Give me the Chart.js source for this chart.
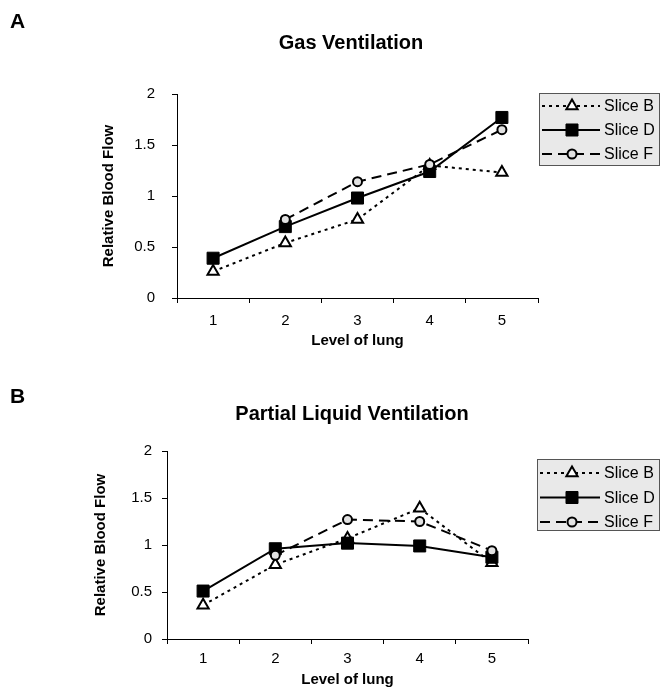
<!DOCTYPE html>
<html><head><meta charset="utf-8">
<script src="https://cdn.jsdelivr.net/npm/chart.js@4.4.1/dist/chart.umd.min.js"></script>
<style>
html,body{margin:0;padding:0;background:#fff;overflow:hidden;width:664px;height:689px}
canvas{position:absolute;left:0}
</style></head>
<body>
<canvas id="cA" width="664" height="360" style="top:0"></canvas>
<canvas id="cB" width="664" height="344" style="top:345px"></canvas>
<script>
// ---- data ----
const levels = ['1', '2', '3', '4', '5'];
const seriesNames = ['Slice B', 'Slice D', 'Slice F'];
const gasSliceB = [0.26, 0.54, 0.77, 1.30, 1.23];
const gasSliceD = [0.39, 0.70, 0.98, 1.24, 1.77];
const gasSliceF = [null, 0.77, 1.14, 1.31, 1.65];
const plvSliceB = [0.36, 0.79, 1.07, 1.39, 0.81];
const plvSliceD = [0.51, 0.96, 1.02, 0.99, 0.87];
const plvSliceF = [null, 0.89, 1.27, 1.25, 0.94];
const yTickValues = [0, 0.5, 1, 1.5, 2];
const yTickLabels = ['0', '0.5', '1', '1.5', '2'];
const titleA = 'Gas Ventilation';
const titleB = 'Partial Liquid Ventilation';
const xTitle = 'Level of lung';
const yTitle = 'Relative Blood Flow';

const FONT = "'Liberation Sans', Arial, sans-serif";

const styles = [
  {borderDash: [3, 4], pointStyle: 'triangle', pointRadius: 6.5, pointBackgroundColor: '#ffffff', pointBorderWidth: 2, order: 3},
  {borderDash: [], pointStyle: 'rect', pointRadius: 8.5, pointBackgroundColor: '#000000', pointBorderWidth: 1, order: 2},
  {borderDash: [10, 6], pointStyle: 'circle', pointRadius: 4.5, pointBackgroundColor: '#e2e2e2', pointBorderWidth: 2, order: 1}
];

function drawMarker(ctx, st, x, y) {
  const r = st.pointRadius;
  ctx.save();
  ctx.setLineDash([]);
  ctx.beginPath();
  if (st.pointStyle === 'triangle') {
    let a = 0;
    ctx.moveTo(x + Math.sin(a) * r, y - Math.cos(a) * r);
    a += 2 * Math.PI / 3;
    ctx.lineTo(x + Math.sin(a) * r, y - Math.cos(a) * r);
    a += 2 * Math.PI / 3;
    ctx.lineTo(x + Math.sin(a) * r, y - Math.cos(a) * r);
    ctx.closePath();
  } else if (st.pointStyle === 'rect') {
    const s = r * Math.SQRT1_2;
    ctx.rect(x - s, y - s, 2 * s, 2 * s);
  } else {
    ctx.arc(x, y, r, 0, Math.PI * 2);
  }
  ctx.fillStyle = st.pointBackgroundColor;
  ctx.fill();
  ctx.lineWidth = st.pointBorderWidth;
  ctx.strokeStyle = '#000';
  ctx.stroke();
  ctx.restore();
}

const figurePlugin = {
  id: 'figureDecor',
  afterDraw(chart, args, o) {
    const ctx = chart.ctx;
    ctx.save();
    ctx.fillStyle = '#000';
    ctx.font = 'bold 21px ' + FONT;
    ctx.textAlign = 'left';
    ctx.textBaseline = 'middle';
    ctx.fillText(o.panel, o.panelX, o.panelY);
    const [bx, by, bw, bh] = o.box;
    ctx.fillStyle = '#e9e9e9';
    ctx.fillRect(bx, by, bw, bh);
    ctx.strokeStyle = '#555';
    ctx.lineWidth = 1;
    ctx.strokeRect(bx + 0.5, by + 0.5, bw - 1, bh - 1);
    chart.data.datasets.forEach((ds, i) => {
      const y = o.rows[i];
      ctx.save();
      ctx.strokeStyle = '#000';
      ctx.lineWidth = 2;
      ctx.setLineDash(ds.borderDash || []);
      ctx.beginPath();
      ctx.moveTo(o.lineX[0], y);
      ctx.lineTo(o.lineX[1], y);
      ctx.stroke();
      ctx.restore();
      drawMarker(ctx, styles[i], o.markerX, y);
      ctx.fillStyle = '#000';
      ctx.font = '16px ' + FONT;
      ctx.textAlign = 'left';
      ctx.textBaseline = 'middle';
      ctx.fillText(ds.label, o.textX, y + 1);
    });
    ctx.restore();
  }
};

function makeChart(id, title, series, L) {
  const datasets = series.map((vals, i) => Object.assign({
    label: seriesNames[i],
    data: vals,
    borderColor: '#000',
    borderWidth: 2,
    tension: 0,
    fill: false,
    pointBorderColor: '#000',
    pointHoverRadius: styles[i].pointRadius,
    borderCapStyle: 'butt'
  }, styles[i]));
  return new Chart(document.getElementById(id), {
    type: 'line',
    data: {labels: levels, datasets},
    plugins: [figurePlugin],
    options: {
      responsive: false,
      animation: false,
      devicePixelRatio: 1,
      layout: {padding: {left: L.padLeft, right: 0, top: 0, bottom: 0}},
      plugins: {
        legend: {display: false},
        tooltip: {enabled: false},
        title: {
          display: true, text: title, color: '#000',
          font: {family: FONT, size: 20, weight: 'bold'},
          padding: {top: L.titleTop, bottom: L.titleBottom}
        },
        figureDecor: L.decor
      },
      scales: {
        x: {
          type: 'category',
          offset: true,
          grid: {display: true, offset: true, drawOnChartArea: false, color: '#000', tickLength: 5, lineWidth: 1},
          border: {display: true, color: '#000', width: 1},
          ticks: {color: '#000', font: {family: FONT, size: 15}, padding: L.xTickPad, maxRotation: 0},
          title: {display: true, text: xTitle, color: '#000', font: {family: FONT, size: 15, weight: 'bold'}, padding: {top: 0, bottom: L.xTitlePad}},
          afterFit: s => { s.height = L.xHeight; }
        },
        y: {
          type: 'linear',
          min: yTickValues[0], max: yTickValues[yTickValues.length - 1],
          grid: {display: true, drawOnChartArea: false, color: '#000', tickLength: 5, lineWidth: 1},
          border: {display: true, color: '#000', width: 1},
          afterBuildTicks: s => { s.ticks = yTickValues.map(v => ({value: v})); },
          ticks: {
            color: '#000', font: {family: FONT, size: 15}, padding: L.yTickPad,
            callback: v => { const k = yTickValues.indexOf(v); return k >= 0 ? yTickLabels[k] : ''; }
          },
          title: {display: true, text: yTitle, color: '#000', font: {family: FONT, size: 15, weight: 'bold'}, padding: {top: L.yTitlePad, bottom: 0}},
          afterFit: s => { s.width = L.yWidth; }
        },
        yR: {
          type: 'linear', position: 'right', display: true,
          grid: {display: false}, border: {display: false}, ticks: {display: false},
          afterFit: s => { s.width = L.rightWidth; }
        }
      }
    }
  });
}

makeChart('cA', titleA, [gasSliceB, gasSliceD, gasSliceF], {
  padLeft: 38, yWidth: 139, rightWidth: 126,
  titleTop: 31, titleBottom: 39, xHeight: 62, xTitlePad: 10, xTickPad: 8.5,
  yTitlePad: 62, yTickPad: 17,
  decor: {panel: 'A', panelX: 10, panelY: 22.5, box: [539, 93, 121, 73], rows: [106, 130, 154],
          lineX: [542, 600], markerX: 572, textX: 604}
});
makeChart('cB', titleB, [plvSliceB, plvSliceD, plvSliceF], {
  padLeft: 40, yWidth: 127, rightWidth: 136,
  titleTop: 57, titleBottom: 25, xHeight: 50, xTitlePad: 0, xTickPad: 6,
  yTitlePad: 52, yTickPad: 10,
  decor: {panel: 'B', panelX: 10, panelY: 52.5, box: [537, 114, 123, 72], rows: [128, 152.5, 177],
          lineX: [540, 600], markerX: 572, textX: 604}
});
</script>
</body></html>
